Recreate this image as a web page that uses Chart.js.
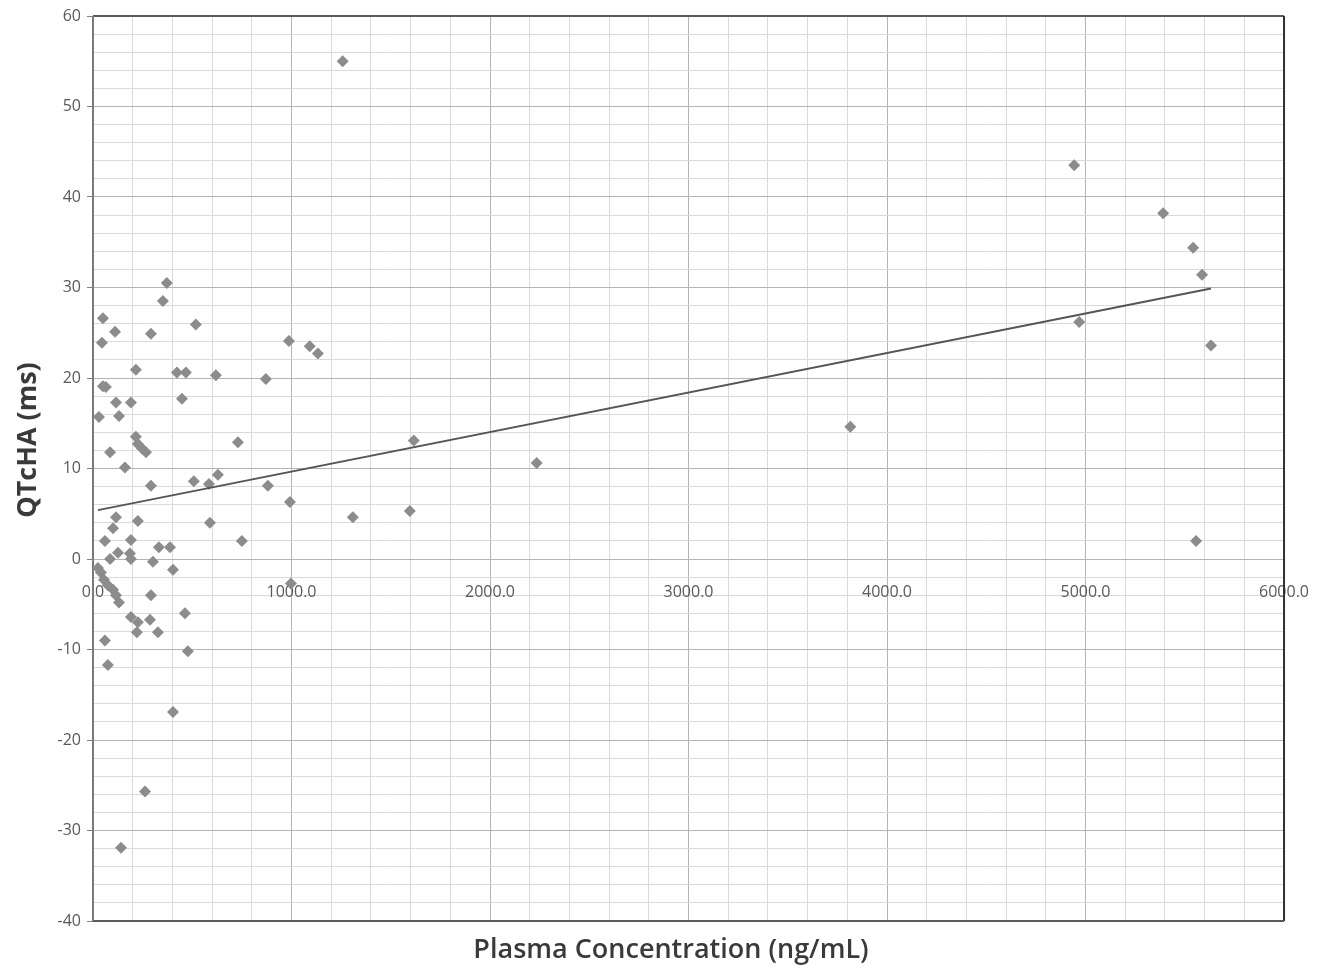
<!DOCTYPE html>
<html>
<head>
<meta charset="utf-8">
<script src="https://cdn.jsdelivr.net/npm/chart.js@4.4.1/dist/chart.umd.min.js"></script>
<style>
  html, body { margin: 0; padding: 0; background: #ffffff; }
  #wrap { width: 1333px; height: 971px; }
</style>
</head>
<body>
<div id="wrap"><canvas id="c" width="1333" height="971"></canvas></div>
<script>
// Plasma concentration (ng/mL)
const concentration = [
  50, 111, 292, 518, 45, 216, 423, 468, 50, 65,
  116, 191, 448, 30, 131, 372, 352, 619, 216, 226,
  247, 267, 86, 161, 292, 508, 116, 226, 101, 60,
  191, 332, 388, 86, 126, 186, 191, 302, 403, 25,
  40, 55, 75, 101, 116, 131, 292, 463, 191, 226,
  287, 221, 327, 60, 478, 75, 403, 262, 141, 584,
  629, 589, 730, 750, 871, 881, 987, 992, 997, 1092,
  1133, 1258, 1309, 1596, 1616, 2235, 3815, 4943, 4968, 5391,
  5542, 5587, 5632, 5557
];
// QTcHA (ms)
const qtcha = [
  26.6, 25.1, 24.9, 25.9, 23.9, 20.9, 20.6, 20.6, 19.1, 19.0,
  17.3, 17.3, 17.7, 15.7, 15.8, 30.5, 28.5, 20.3, 13.5, 12.7,
  12.2, 11.8, 11.8, 10.1, 8.1, 8.6, 4.6, 4.2, 3.4, 2.0,
  2.1, 1.3, 1.3, 0.0, 0.7, 0.6, 0.0, -0.3, -1.2, -1.0,
  -1.5, -2.3, -2.9, -3.4, -4.0, -4.8, -4.0, -6.0, -6.4, -7.0,
  -6.7, -8.1, -8.1, -9.0, -10.2, -11.7, -16.9, -25.7, -31.9, 8.3,
  9.3, 4.0, 12.9, 2.0, 19.9, 8.1, 24.1, 6.3, -2.7, 23.5,
  22.7, 55.0, 4.6, 5.3, 13.1, 10.6, 14.6, 43.5, 26.2, 38.2,
  34.4, 31.4, 23.6, 2.0
];
// Linear trendline endpoints
const trendX = [25, 5632];
const trendY = [5.4, 29.9];

// Axis titles
const xTitle = 'Plasma Concentration (ng/mL)';
const yTitle = 'QTcHA (ms)';

// Axis settings
const xMin = 0, xMax = 6000, xMinorStep = 200, xMajorStep = 1000;
const yMin = -40, yMax = 60, yMinorStep = 2, yMajorStep = 10;

const pointData = concentration.map((x, i) => ({ x: x, y: qtcha[i] }));
const trendData = trendX.map((x, i) => ({ x: x, y: trendY[i] }));

const isMajor = (v, step) => Math.abs(v / step - Math.round(v / step)) < 1e-6;

const framePlugin = {
  id: 'frame',
  beforeDatasetsDraw(chart) {
    const a = chart.chartArea;
    const ctx = chart.ctx;
    ctx.save();
    ctx.lineWidth = 2;
    ctx.strokeStyle = '#5a5a5a';
    ctx.beginPath();
    ctx.moveTo(a.left, a.top); ctx.lineTo(a.right, a.top);
    ctx.stroke();
    ctx.strokeStyle = '#303030';
    ctx.beginPath();
    ctx.moveTo(a.right, a.top); ctx.lineTo(a.right, a.bottom);
    ctx.stroke();
    ctx.strokeStyle = '#5a5a5a';
    ctx.beginPath();
    ctx.moveTo(a.left, a.bottom); ctx.lineTo(a.right, a.bottom);
    ctx.stroke();
    ctx.strokeStyle = '#7a7a7a';
    ctx.beginPath();
    ctx.moveTo(a.left, a.top); ctx.lineTo(a.left, a.bottom);
    ctx.stroke();
    ctx.restore();
  }
};

const titlePlugin = {
  id: 'axisTitles',
  afterDraw(chart) {
    const ctx = chart.ctx;
    ctx.save();
    ctx.fillStyle = '#3a3a3a';
    ctx.textAlign = 'center';
    ctx.textBaseline = 'middle';
    ctx.font = '600 27px "Open Sans"';
    ctx.fillText(xTitle, 671, 950);
    ctx.translate(28, 440);
    ctx.rotate(-Math.PI / 2);
    ctx.font = 'bold 27px "Open Sans"';
    ctx.fillText(yTitle, 0, 0);
    ctx.restore();
  }
};

new Chart(document.getElementById('c'), {
  type: 'scatter',
  data: {
    datasets: [
      {
        label: 'QTcHA',
        data: pointData,
        pointStyle: 'rectRot',
        pointRadius: 6,
        pointHoverRadius: 6,
        pointBackgroundColor: '#8c8c8c',
        pointBorderColor: '#8c8c8c',
        pointBorderWidth: 0,
        showLine: false,
        order: 2
      },
      {
        label: 'Linear',
        data: trendData,
        showLine: true,
        borderColor: '#555555',
        borderWidth: 2,
        pointRadius: 0,
        fill: false,
        order: 1
      }
    ]
  },
  options: {
    responsive: false,
    animation: false,
    events: [],
    layout: { padding: { top: 16, right: 48, left: 0, bottom: 0 } },
    plugins: {
      legend: { display: false },
      tooltip: { enabled: false },
      title: { display: false }
    },
    scales: {
      x: {
        type: 'linear',
        position: 'bottom',
        min: xMin, max: xMax,
        afterFit(scale) { scale.height = 50; },
        ticks: { display: false, stepSize: xMinorStep, autoSkip: false, maxRotation: 0 },
        grid: {
          drawTicks: false,
          color: (ctx) => isMajor(ctx.tick.value, xMajorStep) ? '#b4b4b4' : '#dadada',
          lineWidth: 1
        },
        border: { display: false },
        title: { display: false }
      },
      x2: {
        type: 'linear',
        position: { y: 0 },
        min: xMin, max: xMax,
        ticks: {
          stepSize: xMajorStep,
          autoSkip: false,
          maxRotation: 0,
          padding: 24,
          color: '#595959',
          font: { family: 'Open Sans', size: 16 },
          callback: (v) => Number(v).toFixed(1)
        },
        grid: { display: false, drawTicks: false },
        border: { display: false }
      },
      y: {
        type: 'linear',
        position: 'left',
        min: yMin, max: yMax,
        afterFit(scale) { scale.width = 93; },
        ticks: {
          stepSize: yMinorStep,
          autoSkip: false,
          padding: 6,
          color: '#595959',
          font: { family: 'Open Sans', size: 16 },
          callback: (v) => isMajor(v, yMajorStep) ? String(v) : ''
        },
        grid: {
          color: (ctx) => isMajor(ctx.tick.value, yMajorStep) ? '#b4b4b4' : '#dadada',
          tickColor: (ctx) => isMajor(ctx.tick.value, yMajorStep) ? '#808080' : 'rgba(0,0,0,0)',
          tickLength: 6,
          lineWidth: 1
        },
        border: { display: false },
        title: { display: false }
      }
    }
  },
  plugins: [framePlugin, titlePlugin]
});
</script>
</body>
</html>
